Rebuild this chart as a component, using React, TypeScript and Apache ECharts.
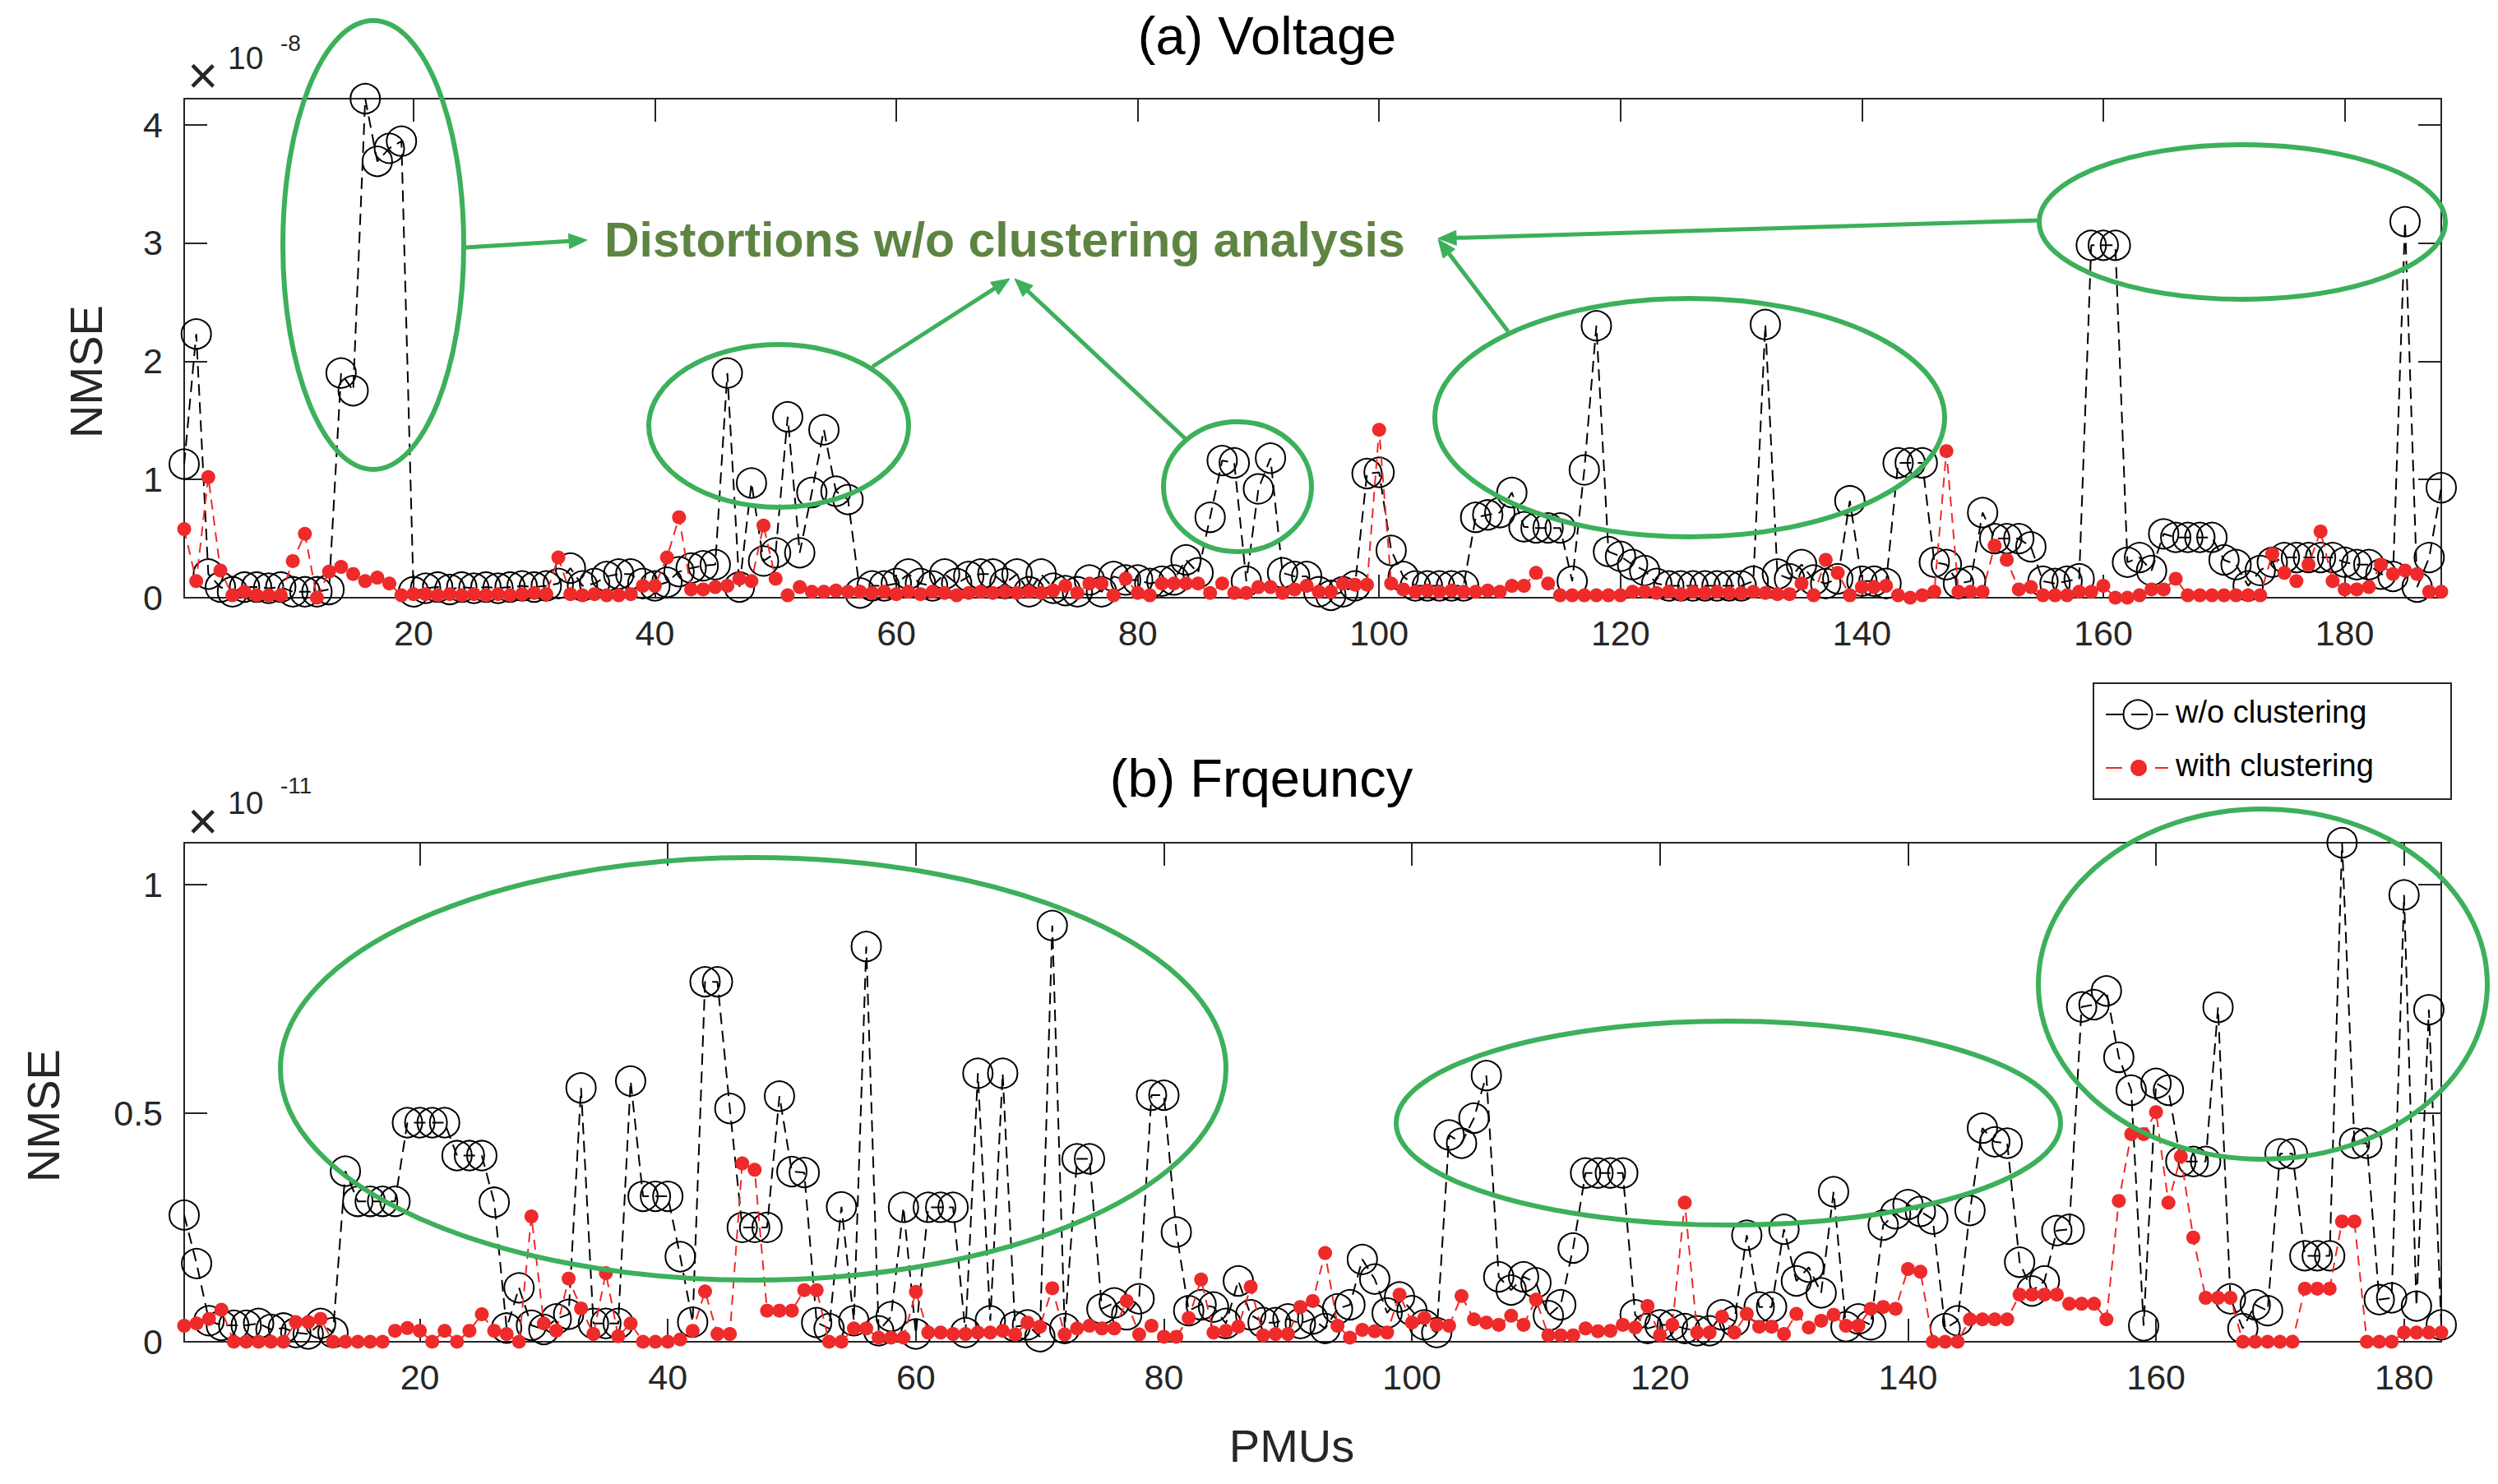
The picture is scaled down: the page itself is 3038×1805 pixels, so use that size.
import React, { useEffect, useRef } from 'react';
import * as echarts from 'echarts';

// ---------- data ----------
const xTicks = [20, 40, 60, 80, 100, 120, 140, 160, 180];
const voltageYTicks = [0, 1, 2, 3, 4];
const freqYTicks = [0, 0.5, 1];
const seriesNames = ['w/o clustering', 'with clustering'];
const panelTitles = ['(a) Voltage', '(b) Frqeuncy'];
const voltageExponent = '-8';
const freqExponent = '-11';
const annotationText = 'Distortions w/o clustering analysis';

// NMSE of voltage (x1e-8), PMU 1..188
const voltageWo = [
  1.13, 2.23, 0.2, 0.09, 0.05, 0.09, 0.09, 0.08, 0.09, 0.05,
  0.05, 0.05, 0.07, 1.9, 1.75, 4.22, 3.69, 3.8, 3.86, 0.05,
  0.08, 0.09, 0.07, 0.09, 0.08, 0.09, 0.08, 0.09, 0.1, 0.09,
  0.1, 0.12, 0.25, 0.1, 0.12, 0.18, 0.2, 0.2, 0.12, 0.1,
  0.13, 0.22, 0.25, 0.27, 0.28, 1.9, 0.09, 0.97, 0.31, 0.38,
  1.53, 0.38, 0.89, 1.42, 0.9, 0.83, 0.04, 0.1, 0.1, 0.12,
  0.2, 0.12, 0.1, 0.2, 0.12, 0.18, 0.2, 0.2, 0.12, 0.2,
  0.05, 0.2, 0.08, 0.06, 0.05, 0.15, 0.05, 0.18, 0.15, 0.15,
  0.12, 0.14, 0.15, 0.32, 0.21, 0.68, 1.16, 1.14, 0.14, 0.92,
  1.18, 0.21, 0.18, 0.18, 0.05, 0.02, 0.05, 0.1, 1.05, 1.06,
  0.4, 0.18, 0.1, 0.1, 0.1, 0.1, 0.1, 0.68, 0.7, 0.72,
  0.89, 0.6, 0.59, 0.59, 0.59, 0.14, 1.08, 2.3, 0.39, 0.35,
  0.28, 0.23, 0.12, 0.1, 0.1, 0.1, 0.1, 0.1, 0.1, 0.1,
  0.14, 2.31, 0.2, 0.16, 0.28, 0.15, 0.12, 0.16, 0.82, 0.14,
  0.14, 0.12, 1.14, 1.14, 1.14, 0.3, 0.28, 0.12, 0.14, 0.72,
  0.5, 0.5, 0.5, 0.43, 0.14, 0.12, 0.14, 0.16, 2.98, 2.98,
  2.98, 0.3, 0.34, 0.23, 0.54, 0.51, 0.51, 0.51, 0.51, 0.32,
  0.28, 0.1, 0.23, 0.3, 0.34, 0.34, 0.34, 0.34, 0.34, 0.3,
  0.28, 0.28, 0.2, 0.18, 3.18, 0.09, 0.34, 0.93,
];
const voltageWith = [
  0.58, 0.14, 1.02, 0.23, 0.02, 0.05, 0.02, 0.02, 0.02, 0.31,
  0.54, 0, 0.22, 0.26, 0.2, 0.14, 0.17, 0.12, 0.02, 0.03,
  0.03, 0.02, 0.03, 0.02, 0.03, 0.02, 0.03, 0.02, 0.03, 0.04,
  0.03, 0.34, 0.03, 0.02, 0.03, 0.02, 0.02, 0.03, 0.1, 0.1,
  0.34, 0.68, 0.07, 0.07, 0.09, 0.1, 0.16, 0.14, 0.61, 0.16,
  0.02, 0.09, 0.05, 0.05, 0.06, 0.05, 0.05, 0.04, 0.05, 0.03,
  0.05, 0.03, 0.05, 0.04, 0.02, 0.04, 0.05, 0.04, 0.05, 0.04,
  0.05, 0.04, 0.06, 0.1, 0.04, 0.12, 0.12, 0.02, 0.16, 0.04,
  0.02, 0.12, 0.12, 0.12, 0.12, 0.04, 0.12, 0.04, 0.04, 0.09,
  0.09, 0.04, 0.07, 0.1, 0.05, 0.05, 0.12, 0.11, 0.11, 1.42,
  0.12, 0.07, 0.05, 0.06, 0.05, 0.06, 0.05, 0.05, 0.06, 0.05,
  0.1, 0.1, 0.21, 0.12, 0.02, 0.02, 0.02, 0.02, 0.02, 0.02,
  0.05, 0.05, 0.04, 0.05, 0.03, 0.05, 0.04, 0.05, 0.04, 0.04,
  0.05, 0.04, 0.03, 0.03, 0.12, 0.02, 0.32, 0.21, 0.02, 0.09,
  0.09, 0.1, 0.02, 0, 0.02, 0.05, 1.24, 0.05, 0.05, 0.05,
  0.44, 0.32, 0.07, 0.09, 0.02, 0.02, 0.02, 0.05, 0.05, 0.1,
  0, 0, 0.02, 0.07, 0.07, 0.16, 0.02, 0.02, 0.02, 0.02,
  0.02, 0.02, 0.02, 0.37, 0.21, 0.14, 0.28, 0.56, 0.14, 0.07,
  0.07, 0.09, 0.28, 0.2, 0.23, 0.2, 0.05, 0.05,
];

// NMSE of frequency (x1e-11), PMU 1..183
const freqWo = [
  0.277, 0.171, 0.046, 0.036, 0.036, 0.036, 0.04, 0.027, 0.03, 0.02,
  0.017, 0.04, 0.02, 0.373, 0.307, 0.307, 0.307, 0.307, 0.479, 0.479,
  0.479, 0.479, 0.407, 0.407, 0.407, 0.305, 0.03, 0.118, 0.036, 0.027,
  0.05, 0.06, 0.555, 0.04, 0.04, 0.04, 0.57, 0.318, 0.318, 0.318,
  0.186, 0.043, 0.787, 0.787, 0.51, 0.25, 0.25, 0.25, 0.537, 0.372,
  0.37, 0.042, 0.029, 0.295, 0.046, 0.864, 0.024, 0.055, 0.294, 0.017,
  0.294, 0.294, 0.294, 0.02, 0.587, 0.046, 0.587, 0.033, 0.037, 0.011,
  0.91, 0.029, 0.4, 0.4, 0.072, 0.085, 0.059, 0.094, 0.539, 0.539,
  0.24, 0.068, 0.081, 0.076, 0.04, 0.133, 0.059, 0.042, 0.042, 0.05,
  0.04, 0.05, 0.029, 0.072, 0.081, 0.18, 0.137, 0.063, 0.098, 0.068,
  0.037, 0.02, 0.452, 0.434, 0.489, 0.582, 0.142, 0.113, 0.142, 0.129,
  0.057, 0.081, 0.205, 0.369, 0.369, 0.369, 0.369, 0.059, 0.029, 0.037,
  0.037, 0.029, 0.024, 0.024, 0.059, 0.045, 0.233, 0.076, 0.076, 0.246,
  0.133, 0.163, 0.107, 0.328, 0.033, 0.05, 0.037, 0.255, 0.28, 0.3,
  0.285, 0.268, 0.029, 0.046, 0.287, 0.467, 0.437, 0.434, 0.174, 0.111,
  0.133, 0.243, 0.246, 0.732, 0.737, 0.767, 0.622, 0.55, 0.035, 0.565,
  0.55, 0.394, 0.394, 0.394, 0.731, 0.094, 0.029, 0.081, 0.068, 0.411,
  0.411, 0.188, 0.188, 0.188, 1.091, 0.434, 0.434, 0.092, 0.096, 0.977,
  0.078, 0.726, 0.037,
];
const freqWith = [
  0.035, 0.04, 0.05, 0.07, 0, 0, 0, 0, 0, 0.043,
  0.043, 0.05, 0, 0, 0, 0, 0, 0.024, 0.03, 0.024,
  0, 0.024, 0, 0.024, 0.06, 0.024, 0.017, 0, 0.274, 0.04,
  0.024, 0.138, 0.073, 0.017, 0.15, 0.012, 0.04, 0, 0, 0,
  0.005, 0.024, 0.11, 0.017, 0.017, 0.39, 0.376, 0.068, 0.068, 0.068,
  0.113, 0.113, 0, 0, 0.029, 0.029, 0.009, 0.009, 0.009, 0.109,
  0.02, 0.02, 0.017, 0.017, 0.02, 0.02, 0.024, 0.016, 0.042, 0.033,
  0.117, 0.016, 0.029, 0.035, 0.029, 0.029, 0.089, 0.016, 0.035, 0.011,
  0.011, 0.052, 0.136, 0.02, 0.024, 0.033, 0.12, 0.014, 0.017, 0.017,
  0.076, 0.089, 0.194, 0.035, 0.009, 0.026, 0.023, 0.02, 0.103, 0.042,
  0.052, 0.037, 0.035, 0.1, 0.049, 0.042, 0.037, 0.057, 0.037, 0.092,
  0.014, 0.014, 0.014, 0.029, 0.023, 0.024, 0.037, 0.031, 0.078, 0.014,
  0.037, 0.304, 0.02, 0.02, 0.055, 0.02, 0.061, 0.033, 0.033, 0.017,
  0.061, 0.031, 0.046, 0.059, 0.035, 0.035, 0.072, 0.076, 0.072, 0.159,
  0.153, 0, 0, 0, 0.049, 0.049, 0.049, 0.049, 0.103, 0.103,
  0.103, 0.103, 0.083, 0.083, 0.083, 0.049, 0.308, 0.454, 0.454, 0.502,
  0.304, 0.405, 0.228, 0.096, 0.096, 0.096, 0, 0, 0, 0,
  0, 0.116, 0.116, 0.116, 0.263, 0.263, 0, 0, 0, 0.02,
  0.02, 0.02, 0.02,
];

// ---------- styling ----------
const W = 3038;
const H = 1805;
const FONT = '"Liberation Sans", Arial, Helvetica, sans-serif';
const AXIS_COLOR = '#262626';
const GREEN = '#3cb05a';
const TEXT_GREEN = '#5e8442';
const RED = '#ee2a2a';

const toPairs = (arr: number[]) => arr.map((v, i) => [i + 1, v]);

function arrow(x1: number, y1: number, x2: number, y2: number) {
  const dx = x2 - x1;
  const dy = y2 - y1;
  const len = Math.sqrt(dx * dx + dy * dy);
  const ux = dx / len;
  const uy = dy / len;
  const L = 22;
  const hw = 9;
  const bx = x2 - ux * L;
  const by = y2 - uy * L;
  const px = -uy;
  const py = ux;
  return [
    {
      type: 'line',
      z: 100,
      shape: { x1, y1, x2: bx, y2: by },
      style: { stroke: GREEN, lineWidth: 5 },
    },
    {
      type: 'polygon',
      z: 100,
      shape: {
        points: [
          [x2, y2],
          [bx + px * hw, by + py * hw],
          [bx - px * hw, by - py * hw],
        ],
      },
      style: { fill: GREEN, stroke: GREEN, lineWidth: 1 },
    },
  ];
}

function ellipse(cx: number, cy: number, rx: number, ry: number) {
  return {
    type: 'ellipse',
    z: 100,
    shape: { cx, cy, rx, ry },
    style: { fill: 'none', stroke: GREEN, lineWidth: 6 },
  };
}

function text(
  str: string,
  x: number,
  y: number,
  size: number,
  opts: any = {}
) {
  return {
    type: 'text',
    z: 110,
    x,
    y,
    rotation: opts.rotation || 0,
    style: {
      text: str,
      fontSize: size,
      fontFamily: FONT,
      fontWeight: opts.weight || 'normal',
      fill: opts.color || AXIS_COLOR,
      align: opts.align || 'left',
      verticalAlign: 'middle',
    },
  };
}

function xAxisPair(gridIndex: number, max: number) {
  const base = {
    gridIndex,
    type: 'value',
    min: 1,
    max,
    axisLine: { show: true, onZero: false, lineStyle: { color: AXIS_COLOR, width: 2 } },
    axisTick: {
      show: true,
      inside: true,
      length: 28,
      customValues: xTicks,
      lineStyle: { color: AXIS_COLOR, width: 2 },
    },
    splitLine: { show: false },
  };
  return [
    {
      ...base,
      position: 'bottom',
      axisLabel: {
        show: true,
        customValues: xTicks,
        margin: 21,
        fontSize: 43,
        fontFamily: FONT,
        color: AXIS_COLOR,
      },
    },
    { ...base, position: 'top', axisLabel: { show: false } },
  ];
}

function yAxisPair(gridIndex: number, max: number, ticks: number[]) {
  const base = {
    gridIndex,
    type: 'value',
    min: 0,
    max,
    axisLine: { show: true, onZero: false, lineStyle: { color: AXIS_COLOR, width: 2 } },
    axisTick: {
      show: true,
      inside: true,
      length: 28,
      customValues: ticks,
      lineStyle: { color: AXIS_COLOR, width: 2 },
    },
    splitLine: { show: false },
  };
  return [
    {
      ...base,
      position: 'left',
      axisLabel: {
        show: true,
        customValues: ticks,
        margin: 26,
        fontSize: 43,
        fontFamily: FONT,
        color: AXIS_COLOR,
        formatter: (v: number) => String(v),
      },
    },
    { ...base, position: 'right', axisLabel: { show: false } },
  ];
}

function seriesPair(axisIndex: number, wo: number[], withC: number[]) {
  return [
    {
      name: seriesNames[0],
      type: 'line',
      xAxisIndex: axisIndex,
      yAxisIndex: axisIndex,
      data: toPairs(wo),
      clip: false,
      symbol: 'circle',
      symbolSize: 36,
      itemStyle: { color: 'rgba(0,0,0,0)', borderColor: '#000', borderWidth: 2 },
      lineStyle: { color: '#000', width: 2, type: [14, 8] },
      emphasis: { disabled: true },
      z: 2,
    },
    {
      name: seriesNames[1],
      type: 'line',
      xAxisIndex: axisIndex,
      yAxisIndex: axisIndex,
      data: toPairs(withC),
      clip: false,
      symbol: 'circle',
      symbolSize: 17,
      itemStyle: { color: RED },
      lineStyle: { color: RED, width: 2, type: [12, 8] },
      emphasis: { disabled: true },
      z: 3,
    },
  ];
}

export default function App() {
  const ref = useRef<HTMLDivElement>(null);

  useEffect(() => {
    if (!ref.current) return;
    const chart = echarts.init(ref.current, null, { renderer: 'svg' });

    const vMax = Math.max(...voltageWo, ...voltageWith);
    const fMax = Math.max(...freqWo, ...freqWith);

    const graphics: any[] = [
      // titles
      text(panelTitles[0], 1541, 43, 65, { align: 'center', color: '#000' }),
      text(panelTitles[1], 1534, 946, 65, { align: 'center', color: '#000' }),
      // axis names
      text('NMSE', 104, 452, 56, { align: 'center', rotation: Math.PI / 2 }),
      text('NMSE', 52, 1357, 56, { align: 'center', rotation: Math.PI / 2 }),
      text('PMUs', 1571, 1758, 56, { align: 'center' }),
      // exponent markers
      text('\u00d7', 228, 92, 64),
      text('10', 277, 70, 39),
      text(voltageExponent, 341, 52, 28),
      text('\u00d7', 228, 999, 64),
      text('10', 277, 976, 39),
      text(freqExponent, 341, 955, 28),
      // annotation
      text(annotationText, 735, 292, 59, { weight: 'bold', color: TEXT_GREEN }),
      // top-panel ellipses
      ellipse(454, 298, 110, 273),
      ellipse(947, 518, 158, 99),
      ellipse(1505, 592, 90, 79),
      ellipse(2055, 508, 310, 145),
      ellipse(2727, 270, 247, 94),
      // bottom-panel ellipses
      ellipse(916, 1300, 575, 257),
      ellipse(2102, 1366, 404, 124),
      ellipse(2752, 1197, 273, 213),
      // arrows
      ...arrow(566, 301, 714, 292),
      ...arrow(1061, 446, 1228, 339),
      ...arrow(1443, 535, 1234, 339),
      ...arrow(1834, 403, 1749, 291),
      ...arrow(2480, 268, 1749, 290),
      // legend
      {
        type: 'rect',
        z: 105,
        shape: { x: 2546, y: 831, width: 435, height: 141 },
        style: { fill: '#fff', stroke: AXIS_COLOR, lineWidth: 2 },
      },
      { type: 'line', z: 106, shape: { x1: 2561, y1: 869, x2: 2582, y2: 869 }, style: { stroke: '#000', lineWidth: 2 } },
      { type: 'line', z: 106, shape: { x1: 2592, y1: 869, x2: 2612, y2: 869 }, style: { stroke: '#000', lineWidth: 2 } },
      { type: 'line', z: 106, shape: { x1: 2622, y1: 869, x2: 2637, y2: 869 }, style: { stroke: '#000', lineWidth: 2 } },
      { type: 'circle', z: 106, shape: { cx: 2600, cy: 869, r: 17.5 }, style: { fill: 'none', stroke: '#000', lineWidth: 2 } },
      { type: 'line', z: 106, shape: { x1: 2561, y1: 934, x2: 2581, y2: 934 }, style: { stroke: RED, lineWidth: 2 } },
      { type: 'line', z: 106, shape: { x1: 2621, y1: 934, x2: 2637, y2: 934 }, style: { stroke: RED, lineWidth: 2 } },
      { type: 'circle', z: 106, shape: { cx: 2601, cy: 934, r: 10 }, style: { fill: RED } },
      text(seriesNames[0], 2646, 866, 38, { color: '#000' }),
      text(seriesNames[1], 2646, 931, 38, { color: '#000' }),
    ];

    const option: any = {
      animation: false,
      backgroundColor: '#fff',
      grid: [
        { left: 224, top: 120, width: 2745, height: 607, containLabel: false },
        { left: 224, top: 1025, width: 2745, height: 607, containLabel: false },
      ],
      xAxis: [...xAxisPair(0, voltageWo.length), ...xAxisPair(1, freqWo.length)],
      yAxis: [...yAxisPair(0, vMax, voltageYTicks), ...yAxisPair(1, fMax, freqYTicks)],
      series: [...seriesPair(0, voltageWo, voltageWith), ...seriesPair(2, freqWo, freqWith)],
      graphic: { elements: graphics },
    };

    chart.setOption(option);
    return () => chart.dispose();
  }, []);

  return (
    <div
      ref={ref}
      style={{
        position: 'absolute',
        left: 0,
        top: 0,
        width: W,
        height: H,
        background: '#fff',
      }}
    />
  );
}
